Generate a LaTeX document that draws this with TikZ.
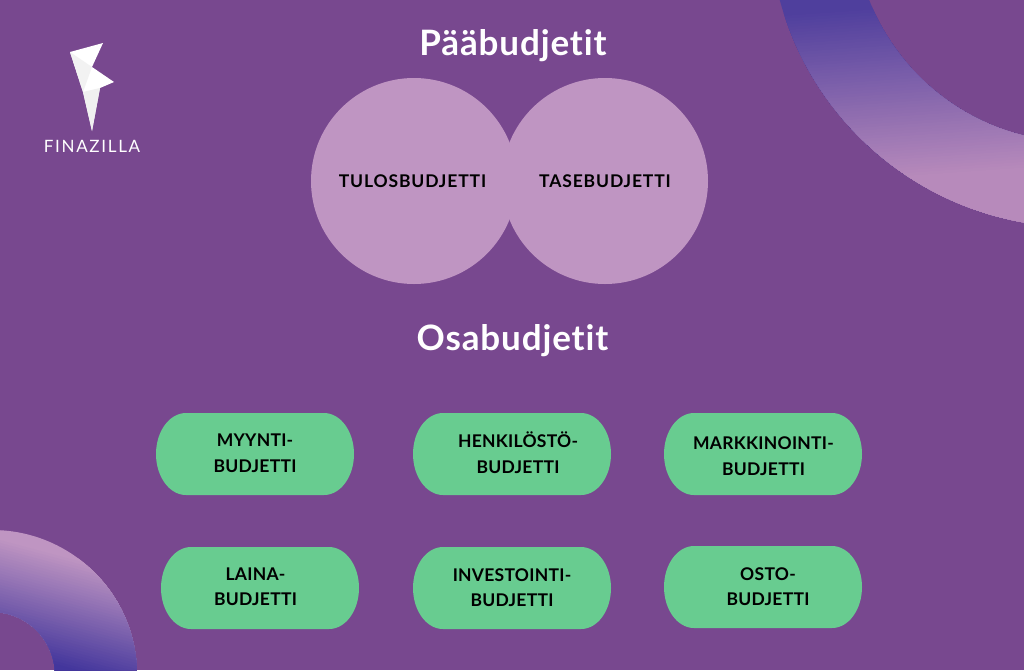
\documentclass[tikz,border=0pt]{standalone}
\usepackage{fontspec}
\setmainfont[Ligatures=NoCommon,Contextuals=NoAlternate]{Lato}
\usetikzlibrary{calc,positioning}
\definecolor{tausta}{HTML}{78488F}
\definecolor{vaalea}{HTML}{BF95C2}
\definecolor{vihrea}{HTML}{68CC90}
\definecolor{sininen}{HTML}{4F3F9D}
\definecolor{syvasininen}{HTML}{43369C}
\definecolor{roosa}{HTML}{B78ABB}
\tikzset{
 otsikko/.style={text=white,font=\bfseries\fontsize{35}{40}\selectfont\addfontfeature{LetterSpace=2.5},inner sep=0pt,anchor=base},
 laatikko/.style={text=black,font=\bfseries\fontsize{17.5}{25.5}\selectfont\addfontfeature{LetterSpace=1.5},inner sep=0pt,align=center},
 pallo/.style={fill=vaalea,draw=none},
 pilleri/.style={fill=vihrea,draw=none}
}
\begin{document}
\begin{tikzpicture}[x=1pt,y=-1pt]
\useasboundingbox (0,0) rectangle (1024,670);
\fill[tausta] (0,0) rectangle (1024,670);
% kaaret
\begin{scope}[even odd rule]
\clip (1077,-81) circle[radius=308] (1077,-81) circle[radius=223];
\fill[sininen] (770,0) rectangle (1024,240);
\foreach \Osa in {0,...,60}
 \fill[roosa!\fpeval{\Osa*100/60}!sininen,rotate around={4:(900,90)}] (700,5+\Osa*2.85) rectangle (1100,300);
\end{scope}
\begin{scope}[even odd rule]
\clip (-8,675) circle[radius=145] (-8,675) circle[radius=63];
\fill[vaalea] (0,525) rectangle (150,670);
\foreach \Osa in {0,...,40}
 \fill[syvasininen!\fpeval{\Osa*100/40}!vaalea,rotate around={-15:(60,600)}] (-80,555+\Osa*2.7) rectangle (250,800);
\end{scope}
% logo
\fill[white] (70,52) -- (103,43) -- (92,67) -- (114,82) -- (100,88) -- (92,131) -- (83,92) -- cycle;
\fill[white!90!gray] (70,52) -- (92,67) -- (83,92) -- cycle;
\fill[white!88!gray] (83,92) -- (100,88) -- (92,131) -- cycle;
\node[text=white,font=\fontsize{17}{20}\selectfont\addfontfeature{LetterSpace=10},inner sep=0pt] (logo) at (92,146) {FINAZILLA};
% paabudjetit
\node[otsikko] (paa) at (513,55) {Pääbudjetit};
\fill[pallo] (414,181) circle[radius=103];
\fill[pallo] (605,181) circle[radius=103];
\node[laatikko,anchor=base,font=\bfseries\fontsize{17.5}{25.5}\selectfont\addfontfeature{LetterSpace=5}] (tulos) at (412.5,187) {TULOSBUDJETTI};
\node[laatikko,anchor=base,font=\bfseries\fontsize{17.5}{25.5}\selectfont\addfontfeature{LetterSpace=5}] (tase) at (605,187) {TASEBUDJETTI};
% osabudjetit
\node[otsikko] (osa) at (512.5,350) {Osabudjetit};
\foreach \Nodo/\X/\Y in {myynti/156/413,henkilo/413/413,markkinointi/664/413,laina/161/547,investointi/413/547,osto/664/546}
 \fill[pilleri] (\X+30,\Y) -- (\X+168,\Y) arc[start angle=-90,end angle=0,x radius=30,y radius=41]
  arc[start angle=0,end angle=90,x radius=30,y radius=41] -- (\X+30,\Y+82)
  arc[start angle=90,end angle=180,x radius=30,y radius=41]
  arc[start angle=180,end angle=270,x radius=30,y radius=41] -- cycle;
\foreach \Nodo/\X/\Y/\Teksti in {myynti/255/453/MYYNTI-,henkilo/518/452.5/HENKILÖSTÖ-,markkinointi/763.5/456/MARKKINOINTI-,laina/255.5/586.5/LAINA-,investointi/512/587.5/INVESTOINTI-,osto/768/586.5/OSTO-}
 \node[laatikko] (\Nodo) at (\X,\Y) {\Teksti\\BUDJETTI};
\end{tikzpicture}
\end{document}
